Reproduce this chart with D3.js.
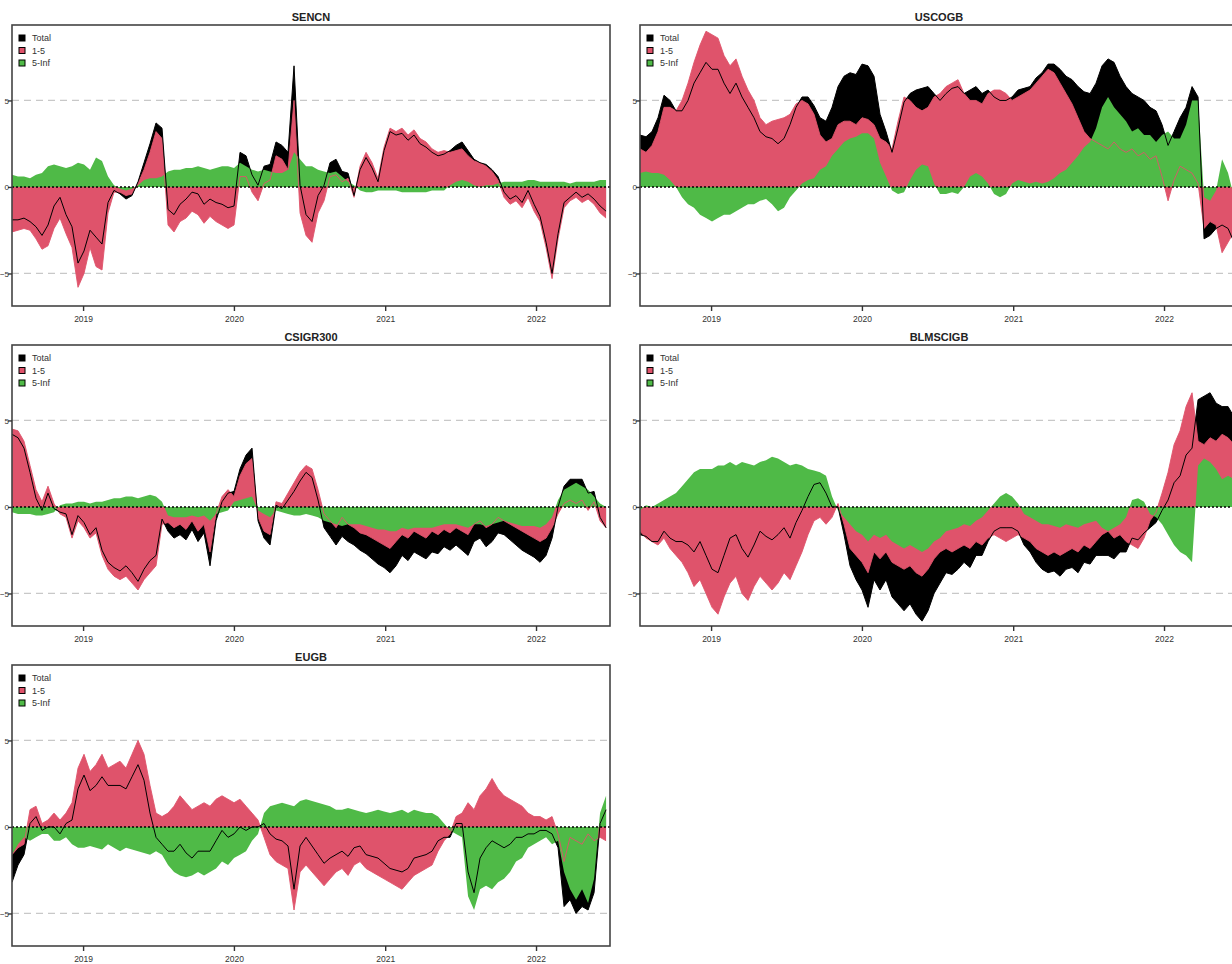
<!DOCTYPE html>
<html><head><meta charset="utf-8">
<script src="https://cdn.jsdelivr.net/npm/d3@7"></script>
<style>body{margin:0;background:#fff}svg{display:block}</style>
</head><body><svg id="c" width="1232" height="964"></svg>
<script>
// ---------------- data ----------------
const startDate = "2018-07-13";
const stepDays = 14.52;
const yearTicks = ["2019", "2020", "2021", "2022"];
const yTicks = [-5, 0, 5];
const seriesNames = ["Total", "1-5", "5-Inf"];
const panelTitles = ["SENCN", "USCOGB", "CSIGR300", "BLMSCIGB", "EUGB"];

const sencn_1_5 = [-2.6,-2.5,-2.4,-2.5,-3.0,-3.6,-3.4,-2.4,-1.8,-2.7,
 -3.5,-5.8,-5.0,-3.5,-4.6,-4.8,-1.5,-0.3,-0.3,-0.5,
 -0.4,0.2,1.0,2.0,3.2,2.8,-2.2,-2.6,-2.0,-1.8,
 -1.4,-1.6,-2.1,-1.7,-2.0,-2.2,-2.4,-2.2,0.6,0.6,
 -0.3,-0.8,0.2,0.4,1.8,1.6,1.0,5.0,-1.5,-2.8,
 -3.2,-1.5,-0.8,0.6,0.7,0.3,0.5,-0.6,1.2,2.0,
 1.4,0.5,2.3,3.4,3.2,3.4,3.0,3.3,2.8,2.6,
 2.2,2.0,2.1,2.0,2.1,2.2,1.8,1.5,1.4,1.2,
 0.9,0.4,-0.6,-1.0,-0.8,-1.2,-0.6,-1.4,-2.0,-3.5,
 -5.3,-3.0,-1.2,-0.8,-0.6,-0.9,-0.7,-1.0,-1.5,-1.8];
const sencn_5_inf = [0.7,0.6,0.6,0.5,0.7,0.8,1.2,1.3,1.2,1.1,
 1.2,1.4,1.3,1.0,1.7,1.5,0.6,0.1,-0.1,-0.2,
 -0.1,0.1,0.4,0.5,0.5,0.6,0.9,1.0,1.0,1.1,
 1.1,1.2,1.1,1.0,1.1,1.2,1.2,1.1,1.4,1.2,
 1.0,0.9,1.0,0.9,0.8,0.8,1.0,2.0,1.6,1.2,
 1.2,1.0,0.9,0.8,0.9,0.6,0.3,0.1,-0.2,-0.3,
 -0.3,-0.2,-0.2,-0.2,-0.2,-0.3,-0.3,-0.3,-0.3,-0.3,
 -0.2,-0.2,-0.2,0.1,0.3,0.4,0.3,0.1,0.0,0.1,
 0.1,0.2,0.3,0.3,0.3,0.3,0.4,0.4,0.3,0.3,
 0.3,0.3,0.3,0.2,0.3,0.3,0.3,0.3,0.4,0.4];

const uscogb_1_5 = [2.2,2.0,2.4,3.2,4.6,4.6,4.4,5.0,6.0,7.2,
 8.2,9.0,8.8,8.6,7.6,7.0,7.4,6.4,5.6,5.0,
 4.0,3.6,3.8,3.9,4.0,4.2,4.8,5.0,4.8,4.2,
 3.0,2.6,2.8,3.6,3.8,3.8,3.6,4.0,3.9,3.6,
 2.8,2.6,2.2,3.8,5.2,5.0,4.6,4.4,4.6,5.2,
 5.4,5.8,6.0,6.2,5.4,5.0,5.0,4.8,5.4,5.6,
 5.6,5.4,5.0,5.2,5.4,5.6,6.0,6.4,6.8,6.6,
 6.0,5.4,4.8,4.0,3.2,2.8,2.6,2.4,2.2,2.6,
 2.2,2.0,2.2,1.8,2.0,1.6,1.8,0.6,-0.8,0.4,
 1.2,1.0,0.8,0.2,-2.4,-2.0,-2.2,-3.8,-3.2,-2.6];
const uscogb_5_inf = [0.8,0.9,0.8,0.8,0.7,0.4,0.0,-0.6,-1.0,-1.2,
 -1.6,-1.8,-2.0,-1.8,-1.6,-1.6,-1.4,-1.2,-1.0,-1.0,
 -0.8,-0.7,-1.0,-1.4,-1.2,-0.6,-0.2,0.2,0.4,0.5,
 1.0,1.2,1.8,2.2,2.6,2.8,2.9,3.1,3.1,2.8,
 1.4,0.6,-0.2,-0.4,-0.3,0.4,1.0,1.3,1.2,0.2,
 -0.4,-0.4,-0.3,-0.4,0.0,0.6,0.8,0.6,0.2,-0.4,
 -0.6,-0.4,0.2,0.4,0.3,0.2,0.3,0.2,0.3,0.5,
 0.8,1.0,1.4,1.8,2.3,2.6,3.4,4.6,5.2,4.6,
 4.2,3.8,3.2,3.4,3.0,3.0,2.6,3.0,3.2,2.8,
 2.8,3.6,5.0,5.0,-0.6,-0.8,-0.2,1.6,0.8,-0.6];

const csigr300_1_5 = [4.5,4.4,3.8,2.4,1.0,0.3,1.2,0.2,-0.4,-0.6,
 -1.8,-0.8,-1.2,-1.8,-1.5,-2.8,-3.6,-4.0,-4.2,-4.0,
 -4.4,-4.8,-4.2,-3.8,-3.4,-1.0,-0.9,-1.2,-1.0,-1.3,
 -0.8,-1.4,-1.0,-2.6,-0.4,0.6,1.0,0.6,1.8,2.5,
 2.8,-0.6,-1.4,-1.6,0.3,0.2,0.8,1.4,2.0,2.4,
 2.2,1.0,-0.4,-0.8,-1.2,-0.6,-1.0,-1.2,-1.5,-1.6,
 -1.8,-2.0,-2.2,-2.4,-2.0,-1.6,-1.8,-1.4,-1.6,-1.8,
 -1.4,-1.6,-1.3,-1.5,-1.2,-1.4,-1.6,-1.0,-0.8,-1.2,
 -1.0,-0.6,-0.8,-1.0,-1.2,-1.4,-1.6,-1.8,-2.0,-1.8,
 -1.2,-0.4,0.2,0.4,0.2,0.4,-0.2,0.3,-0.8,-1.2];
const csigr300_5_inf = [-0.3,-0.4,-0.4,-0.4,-0.5,-0.5,-0.4,-0.3,0.1,0.2,
 0.2,0.3,0.3,0.2,0.3,0.3,0.4,0.5,0.5,0.6,
 0.6,0.5,0.6,0.7,0.6,0.3,-0.5,-0.6,-0.6,-0.6,
 -0.5,-0.6,-0.5,-0.8,-0.4,-0.3,-0.2,0.3,0.4,0.5,
 0.6,-0.2,-0.4,-0.6,-0.2,-0.3,-0.4,-0.5,-0.5,-0.4,
 -0.5,-0.6,-0.8,-0.9,-1.0,-1.1,-1.0,-1.0,-1.0,-1.1,
 -1.2,-1.3,-1.3,-1.4,-1.4,-1.2,-1.3,-1.2,-1.2,-1.2,
 -1.2,-1.1,-1.0,-1.0,-1.0,-1.1,-1.2,-1.0,-1.0,-1.1,
 -1.0,-0.9,-0.8,-0.9,-1.0,-1.1,-1.1,-1.1,-1.2,-1.0,
 -0.6,0.4,1.0,1.2,1.4,1.2,1.0,0.6,0.2,0.0];

const blmscigb_1_5 = [-1.4,-1.8,-2.0,-2.2,-1.8,-2.4,-2.8,-3.2,-3.8,-4.6,
 -4.2,-5.0,-5.8,-6.2,-5.2,-4.4,-4.0,-5.0,-5.4,-4.6,
 -4.0,-4.4,-4.8,-4.4,-3.8,-4.2,-3.4,-2.6,-1.6,-0.8,
 -0.6,-1.0,-0.6,0.2,-1.0,-2.4,-2.8,-3.2,-3.8,-2.6,
 -3.0,-2.6,-3.2,-3.4,-3.6,-3.4,-3.8,-4.0,-3.6,-3.0,
 -2.6,-2.4,-2.6,-2.4,-2.2,-2.4,-2.0,-2.2,-1.8,-1.6,
 -1.8,-2.0,-1.8,-1.6,-1.8,-2.0,-2.4,-2.6,-2.8,-2.6,
 -2.8,-2.6,-2.4,-2.6,-2.2,-2.4,-2.0,-1.6,-1.4,-1.8,
 -1.6,-2.0,-2.2,-2.4,-1.8,-0.8,-0.3,0.8,2.0,3.6,
 4.4,5.8,6.6,3.8,3.6,4.0,3.8,4.2,4.0,3.6];
const blmscigb_5_inf = [-0.2,0.1,0.0,0.2,0.4,0.6,0.8,1.2,1.6,2.0,
 2.2,2.2,2.2,2.4,2.4,2.6,2.4,2.6,2.5,2.4,
 2.6,2.7,2.9,2.8,2.6,2.4,2.5,2.4,2.2,2.1,
 2.0,1.8,0.6,-0.2,-0.6,-1.0,-1.4,-1.6,-2.0,-1.6,
 -1.8,-1.6,-2.0,-2.2,-2.4,-2.2,-2.4,-2.6,-2.4,-2.0,
 -1.8,-1.4,-1.3,-1.2,-1.0,-1.1,-0.8,-0.6,-0.2,0.2,
 0.6,0.8,0.6,0.2,-0.4,-0.6,-0.8,-1.0,-1.0,-1.1,
 -1.2,-1.0,-1.1,-1.2,-1.0,-0.9,-0.8,-1.2,-1.4,-1.2,
 -1.0,-0.6,0.4,0.5,0.3,-0.4,-0.6,-1.0,-1.6,-2.2,
 -2.6,-2.8,-3.2,2.4,2.8,2.6,2.2,1.6,1.8,1.6];

const eugb_1_5 = [-1.6,-1.2,-1.0,1.0,1.2,0.2,0.4,0.8,0.4,0.8,
 1.4,3.4,4.2,3.2,3.6,4.2,3.4,3.6,3.8,3.4,
 4.2,5.0,4.2,2.4,0.8,0.6,0.8,1.2,1.8,1.4,
 1.0,1.2,1.4,1.2,1.6,1.8,1.6,1.4,1.6,1.2,
 0.8,0.4,-0.6,-1.6,-2.0,-2.2,-2.4,-4.8,-2.6,-2.2,
 -2.6,-3.0,-3.4,-3.0,-2.6,-2.4,-2.8,-2.2,-2.0,-2.4,
 -2.6,-2.8,-3.0,-3.2,-3.4,-3.6,-3.2,-2.8,-2.6,-2.4,
 -2.2,-1.4,-0.8,-0.4,0.6,0.8,1.4,1.0,1.8,2.2,
 2.8,2.2,1.8,1.6,1.4,1.2,0.8,0.6,0.6,0.4,
 0.6,-0.4,-2.0,-0.6,-0.8,-1.0,-0.4,-0.8,-0.6,-0.8];
const eugb_5_inf = [-1.6,-1.0,-0.6,-0.8,-0.6,-0.4,-0.4,-0.8,-0.8,-0.6,
 -1.0,-1.2,-1.2,-1.1,-1.2,-1.3,-1.0,-1.2,-1.4,-1.2,
 -1.3,-1.4,-1.5,-1.6,-1.4,-1.6,-2.2,-2.6,-2.8,-2.9,
 -2.8,-2.6,-2.8,-2.6,-2.4,-2.0,-2.2,-1.8,-1.6,-1.4,
 -0.8,-0.4,0.8,1.2,1.3,1.4,1.3,1.2,1.5,1.6,
 1.5,1.4,1.3,1.2,1.0,1.0,1.1,1.0,0.9,0.8,
 0.9,1.0,0.9,0.8,0.9,1.0,0.8,1.0,0.9,0.8,
 0.8,0.6,0.2,-0.2,-0.4,-0.6,-4.0,-4.8,-3.6,-3.4,
 -3.6,-3.2,-3.0,-2.6,-2.0,-1.8,-1.2,-1.0,-0.8,-0.6,
 -1.0,-0.8,-2.6,-3.6,-4.2,-3.6,-4.4,-3.0,0.8,1.8];

const panelSeries = [
  [sencn_1_5, sencn_5_inf],
  [uscogb_1_5, uscogb_5_inf],
  [csigr300_1_5, csigr300_5_inf],
  [blmscigb_1_5, blmscigb_5_inf],
  [eugb_1_5, eugb_5_inf]
];

// ---------------- drawing ----------------
const COL_TOTAL = "#000000", COL_A = "#DF536B", COL_B = "#4FBA47";
const FONT = "'Liberation Sans Narrow','Arial Narrow','Liberation Sans',Arial,sans-serif";
const W = 598, H = 281;
const svg = d3.select("#c");
const t0 = d3.timeParse("%Y-%m-%d")(startDate);
const tEnd = new Date(2022, 5, 29);
const x = d3.scaleTime().domain([t0, tEnd]).range([0, W]);
const y = d3.scaleLinear().domain([-6.88, 9.36]).range([H, 0]);

panelTitles.forEach((title, k) => {
  const col = k % 2, row = Math.floor(k / 2);
  const fx = 12 + col * 628, fy = 25 + row * 320;
  const g = svg.append("g").attr("transform", `translate(${fx},${fy})`);
  const cid = "clip" + k;
  g.append("clipPath").attr("id", cid).append("rect").attr("width", W).attr("height", H);

  const [a, b] = panelSeries[k];
  const data = a.map((v, i) => ({
    d: new Date(t0.getTime() + i * stepDays * 864e5),
    a: v, b: b[i], t: v + b[i]
  }));

  const plot = g.append("g").attr("clip-path", `url(#${cid})`);
  plot.selectAll("line.grid").data([-5, 5]).join("line")
    .attr("x1", 0).attr("x2", W).attr("y1", d => y(d)).attr("y2", d => y(d))
    .attr("stroke", "#c8c8c8").attr("stroke-width", 1.2).attr("stroke-dasharray", "7,5");

  const area = key => d3.area().x(d => x(d.d)).y0(y(0)).y1(d => y(d[key]));
  const line = key => d3.line().x(d => x(d.d)).y(d => y(d[key]));
  plot.append("path").datum(data).attr("d", area("t")).attr("fill", COL_TOTAL);
  plot.append("path").datum(data).attr("d", area("a")).attr("fill", COL_A);
  plot.append("path").datum(data).attr("d", area("b")).attr("fill", COL_B);
  plot.append("path").datum(data).attr("d", line("a")).attr("fill", "none")
    .attr("stroke", COL_A).attr("stroke-width", 0.9);
  plot.append("path").datum(data).attr("d", line("t")).attr("fill", "none")
    .attr("stroke", COL_TOTAL).attr("stroke-width", 1);
  plot.append("line").attr("x1", 0).attr("x2", W).attr("y1", y(0)).attr("y2", y(0))
    .attr("stroke", "#000").attr("stroke-width", 1.6).attr("stroke-dasharray", "2,2");

  g.append("rect").attr("width", W).attr("height", H).attr("fill", "none")
    .attr("stroke", "#444").attr("stroke-width", 1.6);

  const ya = g.append("g").call(d3.axisLeft(y).tickValues(yTicks).tickSize(4).tickFormat(d3.format("d")));
  ya.select(".domain").remove();
  ya.selectAll("line").attr("stroke", "#333").attr("stroke-width", 1.4);
  ya.selectAll("text").attr("x", -3).attr("font-family", FONT).attr("font-size", 8).attr("fill", "#333");

  const xa = g.append("g").attr("transform", `translate(0,${H})`)
    .call(d3.axisBottom(x).tickValues(yearTicks.map(s => d3.timeParse("%Y")(s))).tickSize(5)
      .tickFormat(d3.timeFormat("%Y")));
  xa.select(".domain").remove();
  xa.selectAll("line").attr("stroke", "#333").attr("stroke-width", 1.4);
  xa.selectAll("text").attr("y", 10).attr("font-family", FONT).attr("font-size", 8.5).attr("fill", "#333");

  g.append("text").attr("x", W / 2).attr("y", -4).attr("text-anchor", "middle")
    .attr("font-family", "'Liberation Sans',Arial,sans-serif").attr("font-weight", "bold")
    .attr("font-size", 11).attr("fill", "#222").text(title);

  const cols = [COL_TOTAL, COL_A, COL_B];
  const lg = g.append("g").attr("transform", "translate(7,10)");
  seriesNames.forEach((s, i) => {
    lg.append("rect").attr("x", 0).attr("y", i * 12.5).attr("width", 6).attr("height", 6)
      .attr("fill", cols[i]).attr("stroke", "#000").attr("stroke-width", 1);
    lg.append("text").attr("x", 13).attr("y", i * 12.5 + 3).attr("dy", "0.35em")
      .attr("font-family", FONT).attr("font-size", 9).attr("fill", "#333").text(s);
  });
});
</script></body></html>
